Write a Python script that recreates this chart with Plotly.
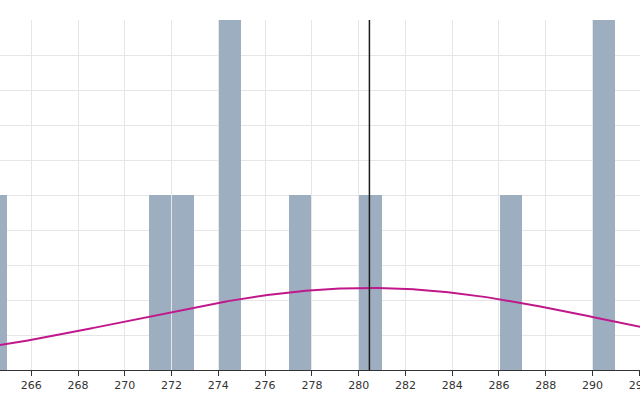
import numpy as np
import plotly.graph_objects as go

# Histogram bins (left edges, width 1) and counts
bin_starts = [264, 271, 272, 274, 277, 280, 286, 290]
counts = [1, 1, 1, 2, 1, 1, 1, 2]
bin_width = 1.0

# Fitted normal curve parameters and mean marker
mean_value = 280.46
std_value = 10.2
sample_size = 12

x_range = [264.664, 292.03]
x_ticks = list(range(264, 294, 2))

centers = [b + bin_width / 2 for b in bin_starts]

xs = np.linspace(x_range[0] - 1, x_range[1] + 1, 400)
pdf = sample_size * bin_width / (std_value * np.sqrt(2 * np.pi)) * np.exp(-0.5 * ((xs - mean_value) / std_value) ** 2)

fig = go.Figure()
fig.add_trace(go.Bar(x=centers, y=counts, width=bin_width * 0.955,
                     marker=dict(color="#9eaec1", line=dict(width=0)),
                     showlegend=False, hoverinfo="skip"))
fig.add_trace(go.Scatter(x=xs, y=pdf, mode="lines",
                         line=dict(color="#c0188a", width=2),
                         showlegend=False, hoverinfo="skip"))
fig.add_shape(type="line", x0=mean_value, x1=mean_value, y0=0, y1=1,
              xref="x", yref="paper", line=dict(color="#1a1a1a", width=1.5))

fig.update_layout(
    width=640, height=400,
    margin=dict(l=0, r=0, t=20, b=30),
    paper_bgcolor="white", plot_bgcolor="white",
    font=dict(family="DejaVu Sans, sans-serif", size=11, color="#333333"),
    xaxis=dict(range=x_range, tickvals=x_ticks, showgrid=True, gridcolor="#e6e6e6",
               gridwidth=1, showline=True, linecolor="#333333", linewidth=1,
               ticks="outside", ticklen=5, tickcolor="#333333", zeroline=False,
               automargin=False, ticklabeloverflow="allow"),
    yaxis=dict(range=[0, 2], dtick=0.2, showgrid=True, gridcolor="#e6e6e6",
               gridwidth=1, showticklabels=False, zeroline=False, showline=False,
               automargin=False),
    bargap=0,
)

fig.write_html("out.html", config={"displayModeBar": False},
               post_script="document.body.style.margin='0';document.body.style.overflow='hidden';")
